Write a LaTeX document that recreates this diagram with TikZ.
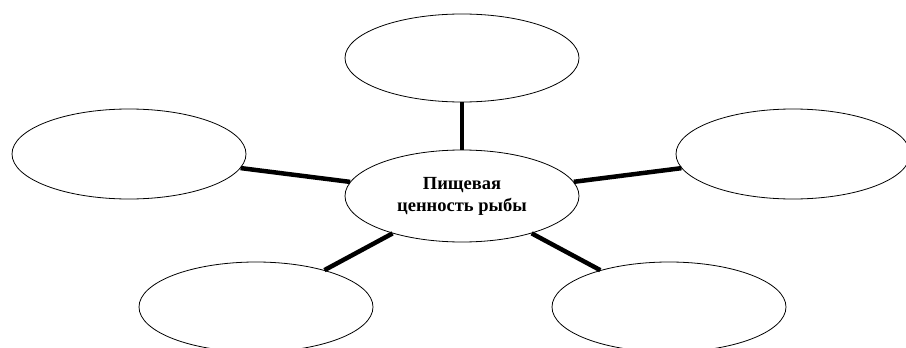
\documentclass[tikz,border=0pt]{standalone}
\usepackage{fontspec}
\setmainfont{Liberation Serif}
\usetikzlibrary{positioning,shapes.geometric}

\begin{document}
\begin{tikzpicture}[x=1pt,y=-1pt,
    blob/.style={draw,ellipse,line width=0.8pt,inner sep=0pt,minimum width=234pt,minimum height=90pt},
    spoke/.style={line width=4.5pt}]
  \useasboundingbox (0,0) rectangle (906,348);
  % centre
  \node[blob,minimum height=92pt,align=center,font=\fontsize{18.5}{22}\selectfont\bfseries]
    (fish) at (462,196) {Пищевая\\ценность рыбы};
  % surrounding blanks
  \node[blob,minimum height=88pt] (top) at (462,58) {};
  \node[blob] (left) at (129,154) {};
  \node[blob] (right) at (793,154) {};
  \node[blob] (botleft) at (256,307) {};
  \node[blob] (botright) at (669,307) {};
  % spokes
  \draw[spoke,line width=4pt] (fish) -- (top);
  \draw[spoke] (fish) -- (left);
  \draw[spoke] (fish) -- (right);
  \draw[spoke] (fish) -- (botleft);
  \draw[spoke] (fish) -- (botright);
\end{tikzpicture}
\end{document}
